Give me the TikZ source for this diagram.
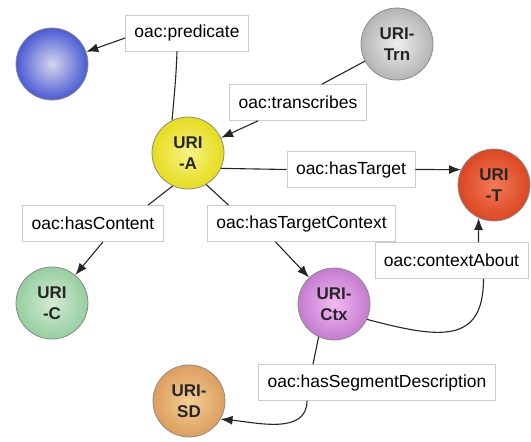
\documentclass[tikz,border=0pt]{standalone}
\usepackage{fontspec}
\setmainfont{Liberation Sans}
\usetikzlibrary{arrows.meta}

\definecolor{blueout}{HTML}{4A5AD4}
\definecolor{bluein}{HTML}{D4D6EC}
\definecolor{yelout}{HTML}{E6DC1E}
\definecolor{yelin}{HTML}{F6F284}
\definecolor{greyout}{HTML}{B4B4B4}
\definecolor{greyin}{HTML}{EEEEEE}
\definecolor{redout}{HTML}{DC4622}
\definecolor{redin}{HTML}{F27A56}
\definecolor{greenout}{HTML}{96CEA0}
\definecolor{greenin}{HTML}{D2ECD4}
\definecolor{purpout}{HTML}{C47CCE}
\definecolor{purpin}{HTML}{F4B8F4}
\definecolor{orgout}{HTML}{DC9E5E}
\definecolor{orgin}{HTML}{F4CE96}

\tikzset{
  uri/.style={circle, minimum size=72pt, inner sep=0pt, draw=black!45,
    line width=0.8pt, align=center, text=black!85,
    font=\fontsize{17}{21}\selectfont\bfseries},
  prop/.style={draw=black!20, fill=white, line width=0.7pt,
    minimum height=36pt, inner xsep=9pt,
    font=\fontsize{17.5}{20}\selectfont},
  link/.style={line width=1.1pt, black!85},
  arrow/.style={link, -{Latex[length=12pt,width=9pt]}}
}

\begin{document}
\begin{tikzpicture}[x=1pt, y=-1pt]
  \useasboundingbox (0,0) rectangle (531,442);

  % resources
  \node[uri, inner color=bluein, outer color=blueout] (Pr) at (52,64) {};
  \node[uri, inner color=yelin, outer color=yelout] (A) at (188,153) {URI\\-A};
  \node[uri, inner color=greyin, outer color=greyout] (Trn) at (397,44) {URI-\\Trn};
  \node[uri, inner color=redin, outer color=redout] (T) at (494,185) {URI\\-T};
  \node[uri, inner color=greenin, outer color=greenout] (C) at (52,303) {URI\\-C};
  \node[uri, inner color=purpin, outer color=purpout] (Ctx) at (334,304) {URI-\\Ctx};
  \node[uri, inner color=orgin, outer color=orgout] (SD) at (189,401) {URI-\\SD};

  % properties
  \node[prop] (predicate) at (187,33) {oac:predicate};
  \node[prop] (transcribes) at (298,102.5) {oac:transcribes};
  \node[prop] (hasTarget) at (351,169.5) {oac:hasTarget};
  \node[prop] (hasContent) at (93,223.5) {oac:hasContent};
  \node[prop] (hasTargetContext) at (301.5,223.5) {oac:hasTargetContext};
  \node[prop] (contextAbout) at (451.5,260.5) {oac:contextAbout};
  \node[prop] (hasSegDesc) at (377,382.5) {oac:hasSegmentDescription};

  % links
  \draw[link] (A.116) to[out=85,in=-92] ([xshift=-10pt]predicate.south);
  \draw[arrow] ([yshift=-5pt]predicate.west) -- (Pr);

  \draw[link] (Trn) -- ([xshift=24pt]transcribes.north);
  \draw[arrow] ([xshift=-40pt]transcribes.south) -- (A);

  \draw[link] (A.-25) -- (hasTarget.west);
  \draw[arrow] (hasTarget.east) -- (T.155);

  \draw[link] (A.-115) -- ([xshift=55pt]hasContent.north);
  \draw[arrow] ([xshift=10pt]hasContent.south) -- (C);

  \draw[link] (A.-60) -- ([xshift=-73pt]hasTargetContext.north);
  \draw[arrow] ([xshift=-26pt]hasTargetContext.south) -- (Ctx);

  \draw[link] (Ctx.-25) .. controls +(72,19) and +(0,66) .. ([xshift=32pt]contextAbout.south);
  \draw[arrow] ([xshift=27pt]contextAbout.north) -- (T.-115);

  \draw[link] (Ctx.-115) -- ([xshift=-64pt]hasSegDesc.north);
  \draw[arrow] ([xshift=-70pt]hasSegDesc.south) to[out=-90,in=-5] (SD.-30);
\end{tikzpicture}
\end{document}
